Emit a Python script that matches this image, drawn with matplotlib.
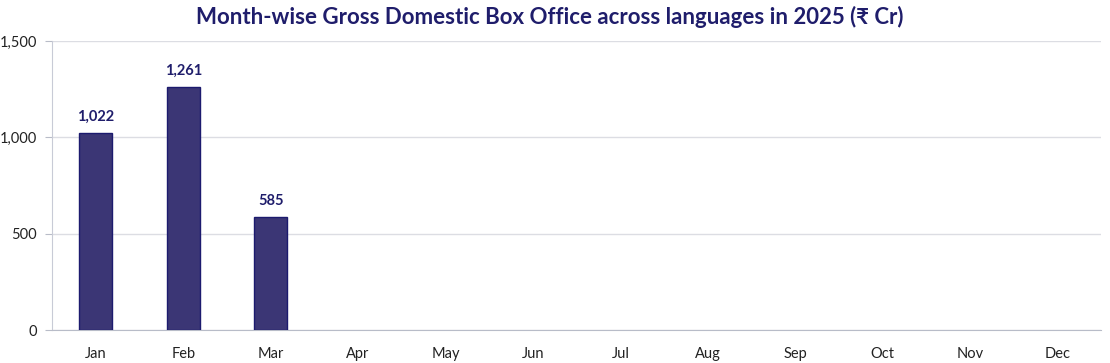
import matplotlib
matplotlib.use('Agg')
import matplotlib.pyplot as plt
from matplotlib.ticker import FuncFormatter

# Data
months = ['Jan', 'Feb', 'Mar', 'Apr', 'May', 'Jun', 'Jul', 'Aug', 'Sep', 'Oct', 'Nov', 'Dec']
gross = [1022, 1261, 585, None, None, None, None, None, None, None, None, None]
yticks = [0, 500, 1000, 1500]

plt.rcParams['font.family'] = ['Lato', 'Noto Sans', 'DejaVu Sans']

fig = plt.figure(figsize=(11.1, 3.63), dpi=100)
ax = fig.add_axes([0.047, 0.09, 0.945, 0.797])

# Bars only for months that have values
xs = [i for i, v in enumerate(gross) if v is not None]
vals = [v for v in gross if v is not None]
bars = ax.bar(xs, vals, width=0.38, color='#3b3675', edgecolor='#1c1a6e', linewidth=1.0, zorder=3)

for x, v in zip(xs, vals):
    ax.annotate('{:,}'.format(v), (x, v), xytext=(0, 7), textcoords='offset points',
                ha='center', va='bottom', fontsize=10.5, fontweight='bold', color='#1f1d6b')

# Axes styling
ax.set_xlim(-0.5, len(months) - 0.5)
ax.set_ylim(0, 1500)
ax.set_xticks(range(len(months)))
ax.set_xticklabels(months)
ax.set_yticks(yticks)
ax.yaxis.set_major_formatter(FuncFormatter(lambda v, p: '{:,.0f}'.format(v)))
ax.grid(axis='y', color='#dcdde3', linewidth=1.0, zorder=0)
ax.tick_params(axis='x', length=0, pad=12, labelsize=10.5, labelcolor='#222222')
ax.tick_params(axis='y', length=5, color='#b8bcc8', pad=6, labelsize=10.5, labelcolor='#222222')
for side in ['top', 'right']:
    ax.spines[side].set_visible(False)
ax.spines['left'].set_color('#c8cbd6')
ax.spines['bottom'].set_color('#b8bcc8')

fig.suptitle('Month-wise Gross Domestic Box Office across languages in 2025 (\u20b9 Cr)',
             x=0.495, y=0.985, fontsize=16, fontweight='bold', color='#1f1d6b')

plt.savefig('out.png', dpi=100)
